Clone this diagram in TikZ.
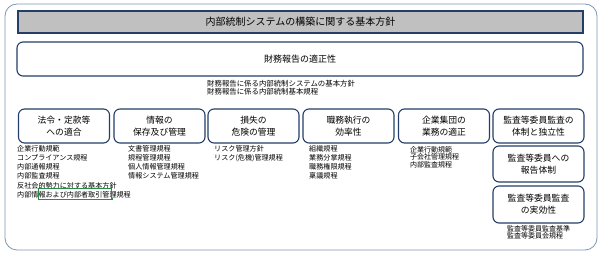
\documentclass[tikz,border=0pt]{standalone}
\usepackage{fontspec}
\setmainfont{Noto Sans CJK JP}
\definecolor{navy}{RGB}{36,62,104}
\definecolor{outerc}{RGB}{125,148,182}
\definecolor{hdrfill}{RGB}{192,192,192}
\definecolor{selgreen}{RGB}{40,140,70}
\tikzset{
  outerframe/.style={draw=outerc, line width=0.8pt, rounded corners=12pt},
  hdrbox/.style={draw=navy, fill=hdrfill, line width=1.1pt, minimum width=565pt, minimum height=22pt, inner sep=0pt, font=\fontsize{10}{11}\selectfont},
  topbox/.style={draw=navy, line width=1.1pt, rounded corners=6pt, minimum width=566pt, minimum height=34pt, inner sep=0pt, font=\fontsize{9}{10}\selectfont},
  catbox/.style={draw=navy, line width=1.1pt, rounded corners=6pt, minimum width=91pt, minimum height=34pt, inner sep=0pt, align=center, font=\fontsize{8.8}{12}\selectfont},
  listtext/.style={anchor=north west, inner sep=0pt, align=left, font=\fontsize{7.1}{9.1}\selectfont},
  smalllist/.style={anchor=north west, inner sep=0pt, align=left, font=\fontsize{7}{7.8}\selectfont},
}
\begin{document}
\begin{tikzpicture}[x=1pt,y=-1pt]
\useasboundingbox (0,0) rectangle (600,253);
\draw[outerframe] (5,4) rectangle (597,250);
\node[hdrbox] (hdr) at (300.5,22) {内部統制システムの構築に関する基本方針};
\node[topbox] (fin) at (300,59) {財務報告の適正性};
\node[smalllist, font=\fontsize{7.4}{7.9}\selectfont] (finlist) at (207,80.5) {財務報告に係る内部統制システムの基本方針\\財務報告に係る内部統制基本規程};

\node[catbox] (c1) at (64,126) {法令・定款等\\への適合};
\node[catbox] (c2) at (159.5,126) {情報の\\保存及び管理};
\node[catbox] (c3) at (253.5,126) {損失の\\危険の管理};
\node[catbox] (c4) at (348.5,126) {職務執行の\\効率性};
\node[catbox] (c5) at (444,126) {企業集団の\\業務の適正};
\node[catbox] (c6) at (538.5,126) {監査等委員監査の\\体制と独立性};
\node[catbox, minimum height=36pt] (c7) at (538.5,164) {監査等委員への\\報告体制};
\node[catbox, minimum height=37pt] (c8) at (538.5,204.5) {監査等委員監査\\の実効性};

\node[listtext] (l1) at (17,145.5) {企業行動規範\\コンプライアンス規程\\内部通報規程\\内部監査規程\\反社会的勢力に対する基本方針\\内部情報および内部者取引管理規程};
\node[listtext] (l2) at (128,145.5) {文書管理規程\\規程管理規程\\個人情報管理規程\\情報システム管理規程};
\node[listtext] (l3) at (214,145.5) {リスク管理方針\\リスク(危機)管理規程};
\node[listtext] (l4) at (309,145.5) {組織規程\\業務分掌規程\\職務権限規程\\稟議規程};
\node[smalllist] (l5) at (410,146) {企業行動規範\\子会社管理規程\\内部監査規程};
\node[smalllist] (l8) at (507,225) {監査等委員監査基準\\監査等委員会規程};

\draw[selgreen, line width=0.5pt] (38.5,188) rectangle (111.5,199);
\fill[selgreen] (110.5,198) rectangle (112.5,200);
\end{tikzpicture}
\end{document}
